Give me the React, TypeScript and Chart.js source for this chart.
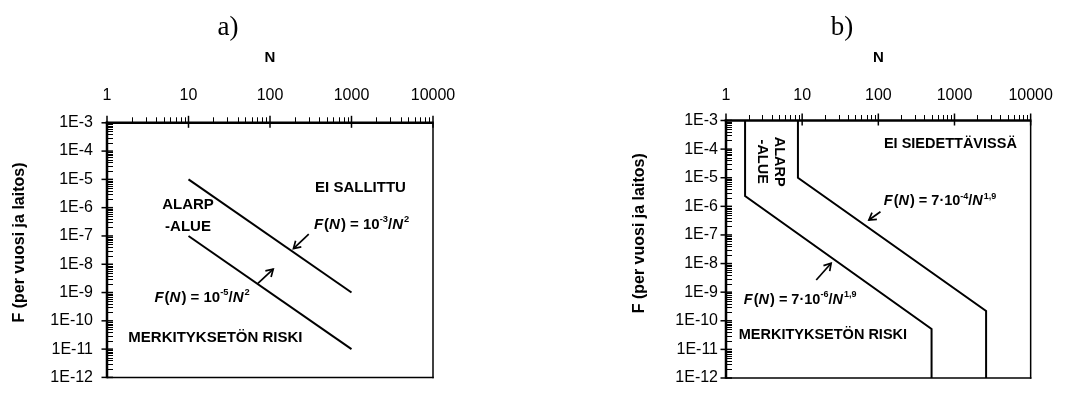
import React, { useEffect, useRef } from 'react';
import { Chart, registerables } from 'chart.js';

Chart.register(...registerables);

const FONT = '"Liberation Sans", Arial, Helvetica, sans-serif';
const SERIF = '"Liberation Serif", "Times New Roman", Times, serif';
Chart.defaults.font.family = FONT;
Chart.defaults.color = '#000';

// ---- axis ticks ----
const X_DECADES = [1, 10, 100, 1000, 10000];
const X_TICK_LABELS = ['1', '10', '100', '1000', '10000'];
const Y_DECADES = [1e-12, 1e-11, 1e-10, 1e-9, 1e-8, 1e-7, 1e-6, 1e-5, 1e-4, 1e-3];
const Y_TICK_LABELS = ['1E-12', '1E-11', '1E-10', '1E-9', '1E-8', '1E-7', '1E-6', '1E-5', '1E-4', '1E-3'];
const MINOR_STEPS = [2, 3, 4, 5, 6, 7, 8, 9];

// ---- panel a) : F(N) = 10^-3/N^2 and F(N) = 10^-5/N^2 ----
const A_UPPER_N = [10, 1000];
const A_UPPER_F = [1e-5, 1e-9];
const A_LOWER_N = [10, 1000];
const A_LOWER_F = [1e-7, 1e-11];

// ---- panel b) : F(N) = 7e-4/N^1.9 and 7e-6/N^1.9 with vertical cut-offs ----
const B_UPPER_N = [8.8, 8.8, 2600, 2600];
const B_UPPER_F = [1e-3, 1e-5, 2.2e-10, 1e-12];
const B_LOWER_N = [1.78, 1.78, 500, 500];
const B_LOWER_F = [1e-3, 2.3e-6, 5.2e-11, 1e-12];

type Seg = { t: string; it?: boolean; sup?: boolean };
type Note =
  | { kind: 'text'; x: number; y: number; lines: string[]; gap: number; rotate?: boolean }
  | { kind: 'rich'; x: number; y: number; segs: Seg[] }
  | { kind: 'arrow'; x1: number; y1: number; x2: number; y2: number };

const A_NOTES: Note[] = [
  { kind: 'text', x: 1290, y: 5.5e-6, lines: ['EI SALLITTU'], gap: 0 },
  { kind: 'text', x: 9.86, y: 5.75e-7, lines: ['ALARP', '-ALUE'], gap: 21.7 },
  {
    kind: 'rich', x: 346, y: 2.84e-7,
    segs: [{ t: 'F', it: true }, { t: '(' }, { t: 'N', it: true }, { t: ') = 10' }, { t: '-3', sup: true }, { t: '/' }, { t: 'N', it: true }, { t: '2', sup: true }],
  },
  { kind: 'arrow', x1: 299, y1: 1.15e-7, x2: 194, y2: 3.59e-8 },
  { kind: 'arrow', x1: 71.1, y1: 2.09e-9, x2: 109.5, y2: 6.68e-9 },
  {
    kind: 'rich', x: 3.82, y: 7.48e-10,
    segs: [{ t: 'F', it: true }, { t: '(' }, { t: 'N', it: true }, { t: ') = 10' }, { t: '-5', sup: true }, { t: '/' }, { t: 'N', it: true }, { t: '2', sup: true }],
  },
  { kind: 'text', x: 21.4, y: 2.83e-11, lines: ['MERKITYKSETÖN RISKI'], gap: 0 },
];

const B_NOTES: Note[] = [
  { kind: 'text', x: 884, y: 1.6e-4, lines: ['EI SIEDETTÄVISSÄ'], gap: 0 },
  { kind: 'text', x: 3.99, y: 3.63e-5, lines: ['ALARP', '-ALUE'], gap: 17, rotate: true },
  {
    kind: 'rich', x: 118, y: 1.66e-6,
    segs: [{ t: 'F', it: true }, { t: '(' }, { t: 'N', it: true }, { t: ') = 7·10' }, { t: '-4', sup: true }, { t: '/' }, { t: 'N', it: true }, { t: '1,9', sup: true }],
  },
  { kind: 'arrow', x1: 106.6, y1: 6.47e-7, x2: 75.2, y2: 3.32e-7 },
  { kind: 'arrow', x1: 15.3, y1: 2.65e-9, x2: 24, y2: 1.02e-8 },
  {
    kind: 'rich', x: 1.716, y: 6.07e-10,
    segs: [{ t: 'F', it: true }, { t: '(' }, { t: 'N', it: true }, { t: ') = 7·10' }, { t: '-6', sup: true }, { t: '/' }, { t: 'N', it: true }, { t: '1,9', sup: true }],
  },
  { kind: 'text', x: 18.7, y: 3.43e-11, lines: ['MERKITYKSETÖN RISKI'], gap: 0 },
];

interface PanelCfg {
  series: { n: number[]; f: number[] }[];
  area: { left: number; top: number; right: number; bottom: number };
  xLabelPad: number;
  yLabelPad: number;
  textSize: number;
  notes: Note[];
  panelLabel: { text: string; x: number; y: number };
  yTitle: { x: number; y: number; size: number };
}

const W = 534;
const H = 401;

const PANEL_A: PanelCfg = {
  series: [
    { n: A_UPPER_N, f: A_UPPER_F },
    { n: A_LOWER_N, f: A_LOWER_F },
  ],
  area: { left: 107, top: 122.8, right: 433, bottom: 390.5 },
  xLabelPad: 17.4,
  yLabelPad: 14,
  textSize: 15,
  notes: A_NOTES,
  panelLabel: { text: 'a)', x: 228, y: 35 },
  yTitle: { x: 20, y: 242.5, size: 16 },
};

const PANEL_B: PanelCfg = {
  series: [
    { n: B_UPPER_N, f: B_UPPER_F },
    { n: B_LOWER_N, f: B_LOWER_F },
  ],
  area: { left: 192, top: 120.5, right: 506, bottom: 378 },
  xLabelPad: 15.1,
  yLabelPad: 8,
  textSize: 14.5,
  notes: B_NOTES,
  panelLabel: { text: 'b)', x: 308, y: 35 },
  yTitle: { x: 106, y: 233.3, size: 16 },
};

function makeTicks(decades: number[]) {
  const t: { value: number; major: boolean }[] = [];
  decades.forEach((d, i) => {
    t.push({ value: d, major: true });
    if (i < decades.length - 1) MINOR_STEPS.forEach((m) => t.push({ value: d * m, major: false }));
  });
  return t;
}

function labelFor(decades: number[], labels: string[], v: number) {
  const i = decades.findIndex((d) => Math.abs(v - d) <= d * 1e-6);
  return i >= 0 ? labels[i] : '';
}

function drawRich(ctx: CanvasRenderingContext2D, segs: Seg[], x: number, baseline: number, size: number) {
  let cx = x;
  ctx.textAlign = 'left';
  ctx.textBaseline = 'alphabetic';
  for (const s of segs) {
    const fs = s.sup ? size * 0.62 : size;
    ctx.font = `${s.it ? 'italic ' : ''}bold ${fs}px ${FONT}`;
    ctx.fillText(s.t, cx, s.sup ? baseline - size * 0.42 : baseline);
    cx += ctx.measureText(s.t).width + (s.it ? 1 : 0);
  }
}

function makeDecor(cfg: PanelCfg) {
  return {
    id: 'fnDecor',
    afterDraw(chart: any) {
      const ctx: CanvasRenderingContext2D = chart.ctx;
      const ca = chart.chartArea;
      const xs = chart.scales.x;
      const ys = chart.scales.y;
      const line = (x1: number, y1: number, x2: number, y2: number) => {
        ctx.beginPath();
        ctx.moveTo(x1, y1);
        ctx.lineTo(x2, y2);
        ctx.stroke();
      };
      ctx.save();
      ctx.strokeStyle = '#000';
      ctx.fillStyle = '#000';
      ctx.lineCap = 'butt';

      // frame: right & bottom thinner
      ctx.lineWidth = 1.5;
      line(ca.right, ca.top, ca.right, ca.bottom + 0.75);
      line(ca.left, ca.bottom, ca.right + 0.75, ca.bottom);
      // main axes (top x axis, left y axis)
      ctx.lineWidth = 2.5;
      line(ca.left - 1.25, ca.top, ca.right + 0.75, ca.top);
      line(ca.left, ca.top - 1.25, ca.left, ca.bottom + 0.75);

      // x ticks
      for (const t of xs.ticks) {
        const px = xs.getPixelForValue(t.value);
        if (t.major) {
          ctx.lineWidth = 1.5;
          line(px, ca.top - 7, px, ca.top + 5);
        } else {
          ctx.lineWidth = 1;
          const p = Math.round(px) + 0.5;
          line(p, ca.top - 5.5, p, ca.top);
        }
      }
      // y ticks
      for (const t of ys.ticks) {
        const py = ys.getPixelForValue(t.value);
        if (t.major) {
          ctx.lineWidth = 1.5;
          line(ca.left - 5.5, py, ca.left + 6, py);
        } else {
          ctx.lineWidth = 1;
          const p = Math.round(py) + 0.5;
          line(ca.left, p, ca.left + 6, p);
        }
      }

      // annotations
      const size = cfg.textSize;
      for (const n of cfg.notes) {
        if (n.kind === 'arrow') {
          const x1 = xs.getPixelForValue(n.x1);
          const y1 = ys.getPixelForValue(n.y1);
          const x2 = xs.getPixelForValue(n.x2);
          const y2 = ys.getPixelForValue(n.y2);
          ctx.lineWidth = 1.7;
          line(x1, y1, x2, y2);
          const ang = Math.atan2(y2 - y1, x2 - x1);
          const hl = 8;
          const spread = 0.55;
          ctx.beginPath();
          ctx.moveTo(x2 - hl * Math.cos(ang - spread), y2 - hl * Math.sin(ang - spread));
          ctx.lineTo(x2, y2);
          ctx.lineTo(x2 - hl * Math.cos(ang + spread), y2 - hl * Math.sin(ang + spread));
          ctx.stroke();
        } else if (n.kind === 'rich') {
          const x = xs.getPixelForValue(n.x);
          const y = ys.getPixelForValue(n.y);
          drawRich(ctx, n.segs, x, y + size * 0.36, size);
        } else {
          const x = xs.getPixelForValue(n.x);
          const y = ys.getPixelForValue(n.y);
          ctx.font = `bold ${size}px ${FONT}`;
          ctx.textAlign = 'center';
          ctx.textBaseline = 'alphabetic';
          ctx.save();
          ctx.translate(x, y);
          if (n.rotate) ctx.rotate(Math.PI / 2);
          const count = n.lines.length;
          n.lines.forEach((ln, i) => {
            const off = (i - (count - 1) / 2) * n.gap;
            ctx.fillText(ln, 0, off + size * 0.36);
          });
          ctx.restore();
        }
      }

      // panel label
      ctx.font = `27px ${SERIF}`;
      ctx.textAlign = 'center';
      ctx.textBaseline = 'alphabetic';
      ctx.fillText(cfg.panelLabel.text, cfg.panelLabel.x, cfg.panelLabel.y);

      // y-axis title
      ctx.save();
      ctx.translate(cfg.yTitle.x, cfg.yTitle.y);
      ctx.rotate(-Math.PI / 2);
      ctx.font = `bold ${cfg.yTitle.size}px ${FONT}`;
      ctx.textAlign = 'center';
      ctx.textBaseline = 'middle';
      ctx.fillText('F (per vuosi ja laitos)', 0, 0);
      ctx.restore();

      ctx.restore();
    },
  };
}

function Panel({ cfg }: { cfg: PanelCfg }) {
  const ref = useRef<HTMLCanvasElement | null>(null);
  useEffect(() => {
    if (!ref.current) return;
    const a = cfg.area;
    const chart = new Chart(ref.current, {
      type: 'scatter',
      data: {
        datasets: cfg.series.map((s) => ({
          data: s.n.map((n, i) => ({ x: n, y: s.f[i] })),
          showLine: true,
          borderColor: '#000',
          backgroundColor: '#000',
          borderWidth: 2,
          pointRadius: 0,
          pointHoverRadius: 0,
          fill: false,
          tension: 0,
        })),
      },
      options: {
        responsive: false,
        animation: false,
        events: [],
        layout: { padding: { left: 0, top: 0, right: W - a.right, bottom: H - a.bottom } },
        plugins: { legend: { display: false }, tooltip: { enabled: false }, title: { display: false } },
        scales: {
          x: {
            type: 'logarithmic',
            position: 'top',
            min: 1,
            max: 10000,
            grid: { display: false, drawTicks: false },
            border: { display: false },
            ticks: {
              autoSkip: false,
              maxRotation: 0,
              minRotation: 0,
              padding: cfg.xLabelPad,
              color: '#000',
              font: { family: FONT, size: 16 },
              callback: (v: any) => labelFor(X_DECADES, X_TICK_LABELS, Number(v)),
            },
            title: {
              display: true,
              text: 'N',
              color: '#000',
              font: { family: FONT, size: 15, weight: 'bold' },
              padding: { top: 48.4, bottom: 0 },
            },
            afterBuildTicks: (s: any) => {
              s.ticks = makeTicks(X_DECADES);
            },
            afterFit: (s: any) => {
              s.height = a.top;
            },
          },
          y: {
            type: 'logarithmic',
            position: 'left',
            min: 1e-12,
            max: 1e-3,
            grid: { display: false, drawTicks: false },
            border: { display: false },
            ticks: {
              autoSkip: false,
              padding: cfg.yLabelPad,
              color: '#000',
              font: { family: FONT, size: 16 },
              callback: (v: any) => labelFor(Y_DECADES, Y_TICK_LABELS, Number(v)),
            },
            afterBuildTicks: (s: any) => {
              s.ticks = makeTicks(Y_DECADES);
            },
            afterFit: (s: any) => {
              s.width = a.left;
            },
          },
        },
      } as any,
      plugins: [makeDecor(cfg)],
    });
    return () => chart.destroy();
  }, [cfg]);
  return <canvas ref={ref} width={W} height={H} style={{ display: 'block', width: W, height: H }} />;
}

export default function App() {
  return (
    <div style={{ position: 'absolute', left: 0, top: 0, width: 1068, height: 401, background: '#fff', display: 'flex' }}>
      <Panel cfg={PANEL_A} />
      <Panel cfg={PANEL_B} />
    </div>
  );
}
